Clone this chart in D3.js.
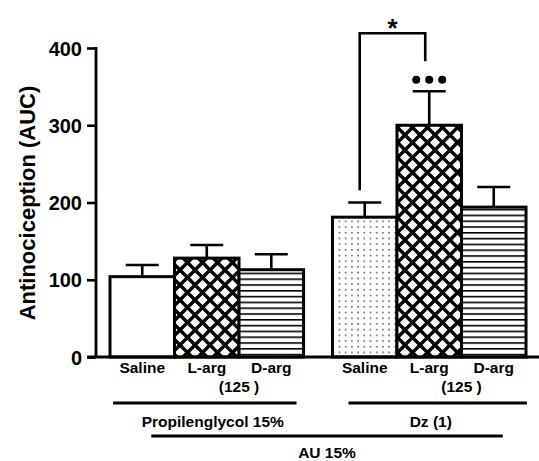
<html>
<meta charset='utf-8'>
<head>
    <script src="https://d3js.org/d3.v7.min.js"></script>
    <style>
      body { margin: 0; background: #fff; }
      text { font-family: Arial, "Liberation Sans", sans-serif; font-weight: bold; fill: #000; }
    </style>
</head>
<body>
<div id='viz'></div>
<script>
    // data
    let groups = ['Propilenglycol 15%', 'Dz (1)'];
    let treatments = ['Saline', 'L-arg', 'D-arg'];
    let pgMeans = [104, 128, 113];
    let pgSem = [15, 17, 20];
    let dzMeans = [181, 300, 194];
    let dzSem = [19, 44, 26];
    let yTicks = [0, 100, 200, 300, 400];
    let fills = ['none', 'url(#cross)', 'url(#hlines)'];
    let dzFills = ['url(#dots)', 'url(#cross)', 'url(#hlines)'];

    let rows = [];
    groups.forEach((g, gi) => {
      treatments.forEach((t, ti) => {
        rows.push({
          group: g, treat: t,
          mean: gi == 0 ? pgMeans[ti] : dzMeans[ti],
          sem: gi == 0 ? pgSem[ti] : dzSem[ti],
          fill: gi == 0 ? fills[ti] : dzFills[ti]
        });
      });
    });

    let svg = d3.select('#viz').append('svg')
                .attr('width', 539)
                .attr('height', 461);

    let defs = svg.append('defs');

    let cross = defs.append('pattern').attr('id', 'cross')
        .attr('patternUnits', 'userSpaceOnUse').attr('width', 15).attr('height', 15);
    cross.append('rect').attr('width', 15).attr('height', 15).attr('fill', '#fff');
    cross.append('path').attr('d', 'M-2,-2 L17,17 M17,-2 L-2,17')
        .attr('stroke', '#000').attr('stroke-width', 3.4);

    let hl = defs.append('pattern').attr('id', 'hlines')
        .attr('patternUnits', 'userSpaceOnUse').attr('width', 10).attr('height', 5.8);
    hl.append('rect').attr('width', 10).attr('height', 5.8).attr('fill', '#fff');
    hl.append('rect').attr('y', 0).attr('width', 10).attr('height', 1.6).attr('fill', '#000');

    let dots = defs.append('pattern').attr('id', 'dots')
        .attr('patternUnits', 'userSpaceOnUse').attr('width', 6.2).attr('height', 5.7)
        .attr('x', 2).attr('y', 2);
    dots.append('rect').attr('width', 6.2).attr('height', 5.7).attr('fill', '#fff');
    dots.append('rect').attr('x', 2).attr('y', 2).attr('width', 1.4).attr('height', 1.4).attr('fill', '#333');

    let y = d3.scaleLinear().domain([0, 400]).range([357, 48]);
    let xg = d3.scaleBand().domain(groups).range([110, 526]).paddingInner(0.13).paddingOuter(0);
    let xt = d3.scaleBand().domain(treatments).range([0, xg.bandwidth()]).padding(0);

    let bx = d => xg(d.group) + xt(d.treat);
    let cx = d => bx(d) + xt.bandwidth() / 2;

    // bars
    svg.selectAll('.bar').data(rows).enter().append('rect')
        .attr('x', d => bx(d))
        .attr('y', d => y(d.mean))
        .attr('width', xt.bandwidth())
        .attr('height', d => y(0) - y(d.mean))
        .attr('fill', d => d.fill == 'none' ? '#fff' : d.fill)
        .attr('stroke', '#000')
        .attr('stroke-width', 3);

    // error bars
    svg.selectAll('.err').data(rows).enter().append('path')
        .attr('d', d => 'M' + cx(d) + ',' + y(d.mean) + 'V' + y(d.mean + d.sem) +
              'M' + (cx(d) - 16.5) + ',' + y(d.mean + d.sem) + 'H' + (cx(d) + 16.5))
        .attr('stroke', '#000').attr('stroke-width', 2.6).attr('fill', 'none');

    // y axis
    let yAxis = d3.axisLeft(y).tickValues(yTicks).tickSize(9).tickPadding(5);
    let ya = svg.append('g').attr('transform', 'translate(96,0)').call(yAxis);
    ya.select('.domain').attr('stroke-width', 2.8).attr('d', 'M0,' + y(0) + 'V' + (y(400) - 1));
    ya.selectAll('.tick line').attr('stroke-width', 2.6);
    ya.selectAll('.tick text').style('font-size', '20px').style('font-weight', 'bold')
        .style('font-family', 'Arial, "Liberation Sans", sans-serif').attr('dy', '0.36em');

    // x axis baseline
    svg.append('line').attr('x1', 87).attr('x2', 539).attr('y1', y(0)).attr('y2', y(0))
        .attr('stroke', '#000').attr('stroke-width', 2.8);

    svg.append('text')
        .attr('transform', 'translate(35,' + 203 + ') rotate(-90)')
        .attr('text-anchor', 'middle')
        .style('font-size', '22px')
        .text('Antinociception (AUC)');

    // category labels
    svg.selectAll('.lab').data(rows).enter().append('text')
        .attr('x', d => cx(d))
        .attr('y', 373)
        .attr('text-anchor', 'middle')
        .style('font-size', '15.5px')
        .text(d => d.treat);

    groups.forEach(g => {
      svg.append('text')
        .attr('x', xg(g) + xt('D-arg'))
        .attr('y', 392)
        .attr('text-anchor', 'middle')
        .style('font-size', '15.5px')
        .text('(125 )');
    });

    // group lines
    groups.forEach((g, gi) => {
      let x0 = xg(g) + (gi == 0 ? 3 : 16);
      let x1 = xg(g) + xg.bandwidth() - (gi == 0 ? 7 : -1);
      svg.append('line').attr('x1', x0).attr('x2', x1).attr('y1', 403).attr('y2', 403)
        .attr('stroke', '#000').attr('stroke-width', 2.8);
      svg.append('text').attr('x', (x0 + x1) / 2 + (gi == 0 ? 8 : -7)).attr('y', 427)
        .attr('text-anchor', 'middle').style('font-size', '15.5px').text(g);
    });

    let au0 = cx(rows[0]) + 9, au1 = cx(rows[5]) + 9;
    svg.append('line').attr('x1', au0).attr('x2', au1).attr('y1', 436).attr('y2', 436)
        .attr('stroke', '#000').attr('stroke-width', 2.8);
    svg.append('text').attr('x', (au0 + au1) / 2).attr('y', 458)
        .attr('text-anchor', 'middle').style('font-size', '15.5px').text('AU 15%');

    // significance bracket Dz saline vs Dz L-arg
    let bl = cx(rows[3]) - 5, br = cx(rows[4]) - 4;
    svg.append('path')
        .attr('d', 'M' + bl + ',' + y(216) + 'V' + y(419) + 'H' + br + 'V' + y(383))
        .attr('stroke', '#000').attr('stroke-width', 2.6).attr('fill', 'none');
    svg.append('text').attr('x', (bl + br) / 2).attr('y', 37)
        .attr('text-anchor', 'middle').style('font-size', '26px').text('*');

    // ••• over Dz L-arg
    [-13, 0, 13].forEach(o => {
      svg.append('circle').attr('cx', cx(rows[4]) + o).attr('cy', y(359)).attr('r', 4).attr('fill', '#000');
    });
</script>
</body>
</html>
